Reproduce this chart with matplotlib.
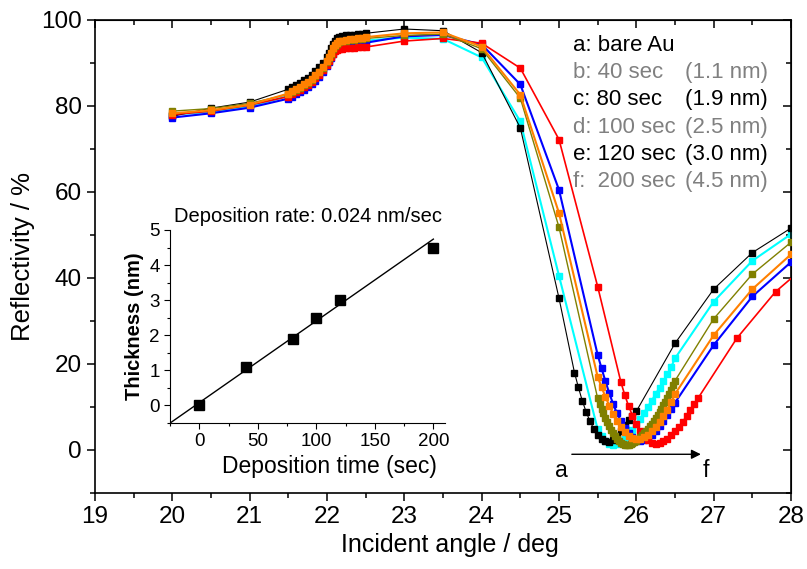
import matplotlib.pyplot as plt
from matplotlib.ticker import MultipleLocator

plt.rcParams["font.family"] = ["Liberation Sans", "DejaVu Sans"]

# shared angle grids (deg)
x_start = [20.0, 20.5, 21.0]
x_band = [21.5, 21.55, 21.6, 21.65, 21.7, 21.75, 21.8, 21.85, 21.9, 21.95, 22.0,
          22.025, 22.05, 22.075, 22.1, 22.125, 22.15, 22.2, 22.25, 22.3, 22.35,
          22.4, 22.45, 22.5]
x_mid = [23.0, 23.5, 24.0, 24.5, 25.0]
x_dip_a = [25.2, 25.25, 25.3, 25.35, 25.4, 25.45, 25.5, 25.55, 25.6, 25.65, 25.7,
           25.75, 25.8, 25.85, 25.9, 25.95, 26.0]
x_dip = [25.5, 25.55, 25.6, 25.65, 25.7, 25.75, 25.8, 25.85, 25.9, 25.95, 26.0,
         26.05, 26.1, 26.15, 26.2, 26.25, 26.3, 26.35, 26.4, 26.45, 26.5]
x_dip_c = [25.5, 25.525, 25.55, 25.575, 25.6, 25.625, 25.65, 25.675, 25.7, 25.725,
           25.75, 25.775, 25.8, 25.825, 25.85, 25.875, 25.9, 25.925, 25.95, 25.975,
           26.0, 26.025, 26.05, 26.075, 26.1, 26.125, 26.15, 26.175, 26.2, 26.225,
           26.25, 26.275, 26.3, 26.325, 26.35, 26.375, 26.4, 26.425, 26.45, 26.475, 26.5]
x_dip_f = [25.8, 25.85, 25.9, 25.95, 26.0, 26.05, 26.1, 26.15, 26.2, 26.25, 26.3,
           26.35, 26.4, 26.45, 26.5, 26.55, 26.6, 26.65, 26.7, 26.75, 26.8]
x_end = [27.0, 27.5, 28.0]

# a: bare Au (black)
a_start = [77.6, 79.5, 80.9]
a_band = [83.9, 84.4, 84.9, 85.4, 86.0, 86.6, 87.3, 88.1, 89.0, 90.1, 91.5, 92.4,
          93.4, 94.4, 95.2, 95.7, 96.0, 96.2, 96.4, 96.5, 96.6, 96.7, 96.8, 96.9]
a_mid = [97.9, 97.5, 92.4, 74.9, 35.3]
a_dip = [18.0, 14.6, 11.5, 8.9, 6.7, 4.9, 3.5, 2.5, 2.0, 1.9, 2.3, 3.2, 4.4, 5.7,
         7.0, 8.0, 9.0]
a_end = [24.8, 37.4, 45.9, 51.6]  # 26.5 .. 28.0

# b: 40 sec (cyan)
b_start = [78.0, 78.6, 79.9]
b_band = [82.3, 82.8, 83.3, 83.8, 84.4, 85.0, 85.7, 86.5, 87.4, 88.5, 89.9, 90.8,
          91.8, 92.8, 93.6, 94.1, 94.4, 94.6, 94.7, 94.8, 94.9, 95.0, 95.1, 95.2]
b_mid = [95.9, 95.6, 91.3, 76.4, 40.5]
b_dip = [4.8, 3.3, 2.2, 1.5, 1.2, 1.3, 1.8, 2.6, 3.6, 4.7, 6.0, 7.3, 8.7, 10.1,
         11.5, 13.0, 14.5, 16.0, 17.6, 19.3, 21.3]
b_end = [34.5, 44.0, 50.2]

# c: 80 sec (olive)
c_start = [78.8, 79.4, 80.6]
c_band = [82.7, 83.2, 83.7, 84.2, 84.8, 85.4, 86.1, 86.9, 87.8, 88.9, 90.3, 91.2,
          92.2, 93.2, 94.0, 94.5, 94.8, 95.0, 95.2, 95.3, 95.4, 95.5, 95.6, 95.7]
c_mid = [96.4, 96.7, 93.3, 81.8, 51.8]
c_dip = [12.0, 10.8, 9.6, 8.5, 7.4, 6.4, 5.5, 4.7, 3.9, 3.2, 2.6, 2.1, 1.7, 1.4,
         1.2, 1.1, 1.2, 1.4, 1.6, 1.9, 2.2, 2.6, 3.0, 3.4, 3.9, 4.4, 4.9, 5.5, 6.1,
         6.7, 7.4, 8.1, 8.8, 9.6, 10.4, 11.2, 12.1, 13.0, 14.0, 15.0, 16.1]
c_end = [30.5, 40.9, 48.3]

# d: 100 sec (orange)
d_start = [78.3, 79.0, 80.3]
d_band = [82.9, 83.4, 83.9, 84.4, 85.0, 85.6, 86.3, 87.1, 88.0, 89.1, 90.5, 91.4,
          92.4, 93.4, 94.2, 94.7, 95.0, 95.2, 95.4, 95.5, 95.6, 95.7, 95.8, 96.0]
d_mid = [96.9, 97.1, 93.8, 82.6, 55.1]
d_dip = [17.0, 14.6, 12.4, 10.3, 8.4, 6.8, 5.4, 4.2, 3.3, 2.7, 2.5, 2.6, 3.0, 3.6,
         4.4, 5.4, 6.6, 7.9, 9.4, 11.1, 13.0]
d_end = [26.7, 37.4, 45.5]

# e: 120 sec (blue)
e_start = [77.3, 78.3, 79.6]
e_band = [81.7, 82.2, 82.7, 83.2, 83.8, 84.4, 85.1, 85.9, 86.8, 87.9, 89.3, 90.2,
          91.2, 92.2, 93.0, 93.5, 93.8, 94.0, 94.2, 94.3, 94.4, 94.5, 94.6, 94.7]
e_mid = [96.2, 96.5, 94.3, 85.0, 60.5]
e_dip = [22.1, 19.0, 16.0, 13.2, 10.7, 8.5, 6.7, 5.2, 4.0, 3.0, 2.4, 2.2, 2.4, 2.9,
         3.6, 4.5, 5.6, 6.8, 8.1, 9.5, 11.0]
e_end = [24.4, 35.7, 43.7]

# f: 200 sec (red)
f_start = [78.0, 78.8, 80.2]
f_band = [82.2, 82.7, 83.2, 83.7, 84.3, 84.9, 85.6, 86.4, 87.3, 88.3, 89.6, 90.4,
          91.3, 92.1, 92.7, 93.0, 93.2, 93.3, 93.4, 93.5, 93.5, 93.6, 93.6, 93.7]
f_mid = [95.1, 95.7, 94.6, 88.8, 72.2]
f_pre = [38.0]  # 25.5
f_dip = [15.8, 12.8, 10.2, 8.0, 6.1, 4.5, 3.2, 2.3, 1.7, 1.5, 1.6, 2.0, 2.6, 3.4,
         4.3, 5.4, 6.6, 7.9, 9.2, 10.7, 12.1]
f_x_end = [27.3, 27.8, 28.3]
f_end = [26.0, 36.8, 44.5]

legend_left = ["a: bare Au", "b: 40 sec", "c: 80 sec", "d: 100 sec", "e: 120 sec", "f:  200 sec"]
legend_right = ["", "(1.1 nm)", "(1.9 nm)", "(2.5 nm)", "(3.0 nm)", "(4.5 nm)"]
legend_colors = ["black", "#808080", "black", "#808080", "black", "#808080"]

# inset data
dep_time = [0, 40, 80, 100, 120, 200]
thickness = [0.0, 1.1, 1.9, 2.5, 3.0, 4.5]
fit_slope = 0.0233
fit_icpt = 0.08
fit_range = [-25, 200]

fig = plt.figure(figsize=(8.07, 5.69), dpi=100)
ax = fig.add_axes([0.1177, 0.1336, 0.8625, 0.8313])

series = [
    # x, y, color, lw, zorder
    (x_start + x_band + x_mid + x_dip + x_end, b_start + b_band + b_mid + b_dip + b_end, "#00ffff", 1.5, 2),
    (x_start + x_band + x_mid + x_dip_a + [26.5] + x_end, a_start + a_band + a_mid + a_dip + a_end, "black", 0.8, 3),
    (x_start + x_band + x_mid + x_dip + x_end, e_start + e_band + e_mid + e_dip + e_end, "#0000ff", 1.5, 4),
    (x_start + x_band + x_mid + [25.5] + x_dip_f + f_x_end, f_start + f_band + f_mid + f_pre + f_dip + f_end, "#ff0000", 1.2, 5),
    (x_start + x_band + x_mid + x_dip_c + x_end, c_start + c_band + c_mid + c_dip + c_end, "#808000", 1.0, 6),
    (x_start + x_band + x_mid + x_dip + x_end, d_start + d_band + d_mid + d_dip + d_end, "#ff8000", 1.5, 7),
]
for xs, ys, col, lw, z in series:
    ax.plot(xs, ys, color=col, lw=lw, marker="s", ms=4.4, mec=col, mfc=col, zorder=z)

ax.set_xlim(19, 28)
ax.set_ylim(-10, 100)
ax.xaxis.set_major_locator(MultipleLocator(1))
ax.xaxis.set_minor_locator(MultipleLocator(0.5))
ax.yaxis.set_major_locator(MultipleLocator(20))
ax.yaxis.set_minor_locator(MultipleLocator(10))
ax.tick_params(which="both", direction="out", top=False, right=False, width=1.1, labelsize=17.5)
ax.tick_params(which="major", length=6)
ax.tick_params(which="minor", length=3.5)
for s in ax.spines.values():
    s.set_linewidth(1.2)

# mirrored inward ticks on top/right
sec_x = ax.secondary_xaxis("top")
sec_x.xaxis.set_major_locator(MultipleLocator(1))
sec_x.xaxis.set_minor_locator(MultipleLocator(0.5))
sec_x.tick_params(which="both", direction="in", labeltop=False, width=1.1)
sec_x.tick_params(which="major", length=6)
sec_x.tick_params(which="minor", length=3.5)
sec_y = ax.secondary_yaxis("right")
sec_y.yaxis.set_major_locator(MultipleLocator(20))
sec_y.yaxis.set_minor_locator(MultipleLocator(10))
sec_y.tick_params(which="both", direction="in", labelright=False, width=1.1)
sec_y.tick_params(which="major", length=6)
sec_y.tick_params(which="minor", length=3.5)

ax.set_xlabel("Incident angle / deg", fontsize=18, labelpad=5)
ax.xaxis.set_label_coords(0.51, -0.085)
ax.set_ylabel("Reflectivity / %", fontsize=18.5, labelpad=4)

# legend text
for i in range(6):
    yy = 0.947 - i * 0.0578
    ax.text(0.687, yy, legend_left[i], transform=ax.transAxes, fontsize=16,
            color=legend_colors[i], va="center", ha="left")
    if legend_right[i]:
        ax.text(0.8477, yy, legend_right[i], transform=ax.transAxes, fontsize=16,
                color=legend_colors[i], va="center", ha="left")

# arrow a -> f
ax.annotate("", xy=(26.87, -1.0), xytext=(25.13, -1.0),
            arrowprops=dict(arrowstyle="-|>", color="black", lw=1, mutation_scale=14))
ax.text(25.03, -4.8, "a", fontsize=16.5, ha="center", va="center")
ax.text(26.9, -4.8, "f", fontsize=16.5, ha="center", va="center")

# inset
ins = fig.add_axes([0.2107, 0.2566, 0.3408, 0.3392])
ins.patch.set_alpha(0)
ins.plot(fit_range, [fit_slope * t + fit_icpt for t in fit_range], color="black", lw=1)
ins.plot(dep_time, thickness, "s", color="black", ms=6.5, ls="none")
ins.set_xlim(-25, 210)
ins.set_ylim(-0.5, 5)
ins.spines["top"].set_visible(False)
ins.spines["right"].set_visible(False)
ins.xaxis.set_major_locator(MultipleLocator(50))
ins.xaxis.set_minor_locator(MultipleLocator(25))
ins.yaxis.set_major_locator(MultipleLocator(1))
ins.yaxis.set_minor_locator(MultipleLocator(0.5))
ins.tick_params(which="both", direction="out", labelsize=13.5, width=0.8)
ins.tick_params(which="major", length=4)
ins.tick_params(which="minor", length=2)
ins.set_xlabel("Deposition time (sec)", fontsize=16.5)
ins.xaxis.set_label_coords(0.58, -0.165)
ins.set_ylabel("Thickness (nm)", fontsize=14.5, fontweight="bold", labelpad=4)
ins.set_title("Deposition rate: 0.024 nm/sec", fontsize=14.5, pad=6)

plt.savefig("out.png", dpi=100)
